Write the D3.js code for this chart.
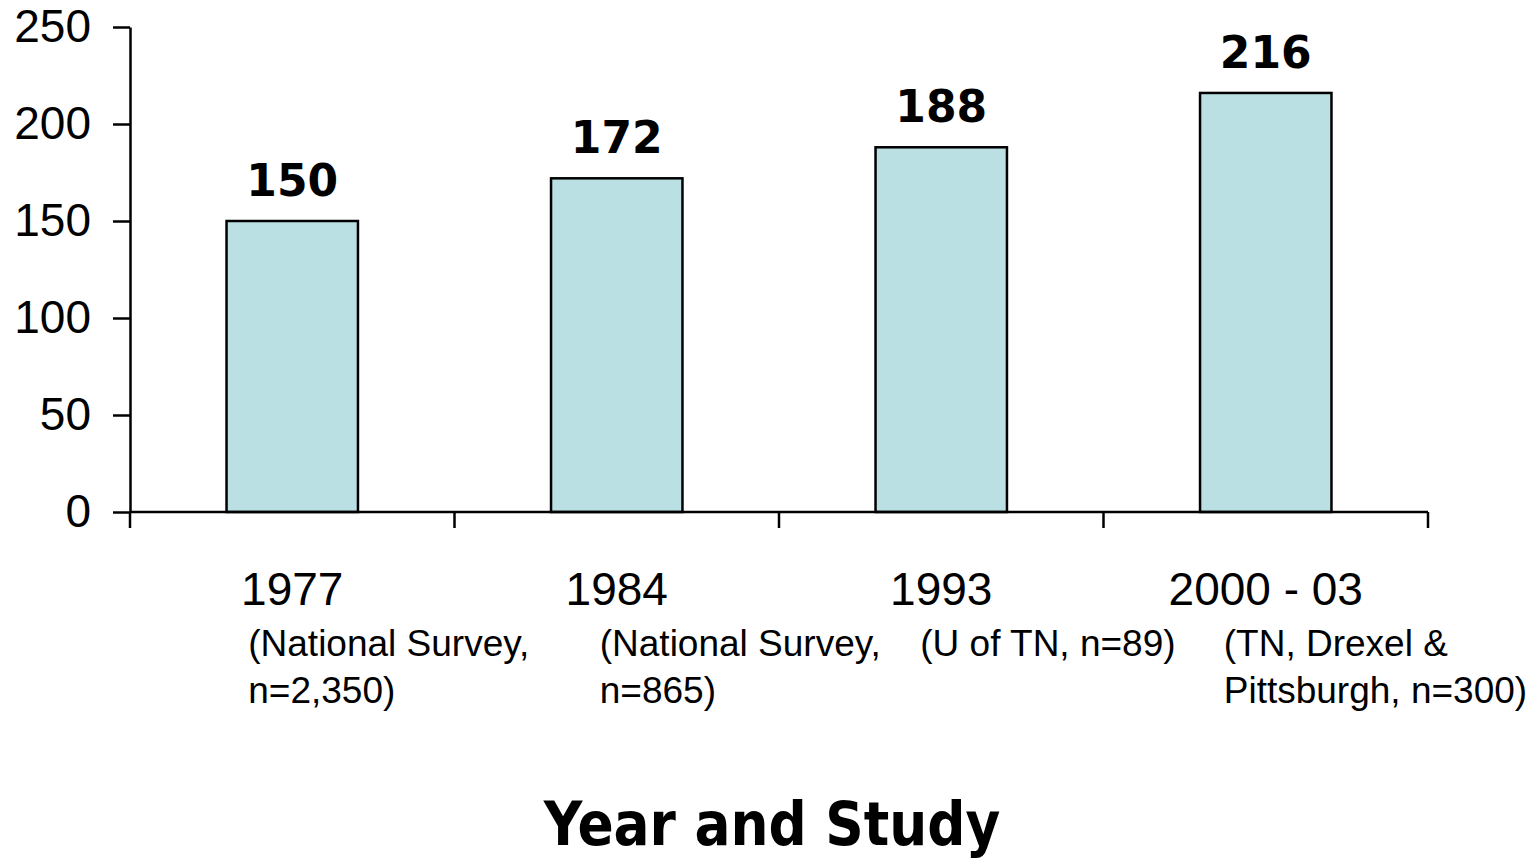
<!DOCTYPE html>
<html>
<head>
<meta charset="utf-8">
<script src="https://cdn.jsdelivr.net/npm/d3@7/dist/d3.min.js"></script>
<style>
  html, body { margin: 0; padding: 0; background: #fff; }
  svg { display: block; }
</style>
</head>
<body>
<svg id="chart" width="1538" height="860"></svg>
<script>
// Bar data: one value per study
const years = ["1977", "1984", "1993", "2000 - 03"];
const values = [150, 172, 188, 216];
const studyNotes = [
  ["(National Survey,", "n=2,350)"],
  ["(National Survey,", "n=865)"],
  ["(U of TN, n=89)"],
  ["(TN, Drexel &", "Pittsburgh, n=300)"]
];
const yTicks = [0, 50, 100, 150, 200, 250];
const axisTitle = "Year and Study";

const svg = d3.select("#chart");
const plot = { left: 130, right: 1428, top: 27, bottom: 512 };

const x = d3.scaleBand()
  .domain(years)
  .range([plot.left, plot.right])
  .paddingInner(0.595)
  .paddingOuter(0.2975);

const y = d3.scaleLinear()
  .domain([0, 250])
  .range([plot.bottom, plot.top]);

const axisFont = "'Liberation Sans', Arial, sans-serif";
const boldFont = "'DejaVu Sans', Verdana, sans-serif";

// Bars
svg.append("g")
  .selectAll("rect")
  .data(values)
  .join("rect")
  .attr("x", (d, i) => x(years[i]))
  .attr("y", d => y(d))
  .attr("width", x.bandwidth())
  .attr("height", d => y(0) - y(d))
  .attr("fill", "#bbe0e3")
  .attr("stroke", "#000")
  .attr("stroke-width", 2.5);

// Value labels above the bars
svg.append("g")
  .selectAll("text")
  .data(values)
  .join("text")
  .attr("x", (d, i) => x(years[i]) + x.bandwidth() / 2)
  .attr("y", d => y(d) - 25)
  .attr("text-anchor", "middle")
  .attr("font-family", boldFont)
  .attr("font-weight", "bold")
  .attr("font-size", 44)
  .attr("fill", "#000")
  .text(d => d);

// Y axis
const yAxis = svg.append("g")
  .attr("transform", `translate(${plot.left},0)`)
  .call(d3.axisLeft(y).tickValues(yTicks).tickSize(17).tickSizeOuter(0).tickPadding(22));
yAxis.selectAll("path, line").attr("stroke", "#000").attr("stroke-width", 2.5);
yAxis.selectAll("text")
  .attr("font-family", axisFont)
  .attr("font-size", 46)
  .attr("fill", "#000");

// X axis: baseline with ticks on the category boundaries
const xAxis = svg.append("g");
xAxis.append("line")
  .attr("x1", plot.left).attr("x2", plot.right)
  .attr("y1", y(0)).attr("y2", y(0))
  .attr("stroke", "#000").attr("stroke-width", 2.5);
xAxis.selectAll("line.tick")
  .data(d3.range(years.length + 1))
  .join("line")
  .attr("class", "tick")
  .attr("x1", i => plot.left + i * x.step())
  .attr("x2", i => plot.left + i * x.step())
  .attr("y1", y(0)).attr("y2", y(0) + 16)
  .attr("stroke", "#000").attr("stroke-width", 2.5);

// Year labels
svg.append("g")
  .selectAll("text")
  .data(years)
  .join("text")
  .attr("x", d => x(d) + x.bandwidth() / 2)
  .attr("y", 605)
  .attr("text-anchor", "middle")
  .attr("font-family", axisFont)
  .attr("font-size", 46)
  .attr("fill", "#000")
  .text(d => d);

// Study notes under each year, left-aligned text blocks
const noteShift = [-44, -17, -21, -42];
const notes = svg.append("g")
  .selectAll("text")
  .data(studyNotes)
  .join("text")
  .attr("font-family", axisFont)
  .attr("font-size", 37)
  .attr("fill", "#000");
notes.each(function (lines, i) {
  const cx = x(years[i]) + x.bandwidth() / 2 + noteShift[i];
  d3.select(this).selectAll("tspan")
    .data(lines)
    .join("tspan")
    .attr("x", cx)
    .attr("y", (l, j) => 656 + j * 47)
    .text(l => l);
});

// Axis title
svg.append("text")
  .attr("transform", `translate(772,845) scale(0.89,1)`)
  .attr("text-anchor", "middle")
  .attr("font-family", boldFont)
  .attr("font-weight", "bold")
  .attr("font-size", 60)
  .attr("fill", "#000")
  .text(axisTitle);
</script>
</body>
</html>
